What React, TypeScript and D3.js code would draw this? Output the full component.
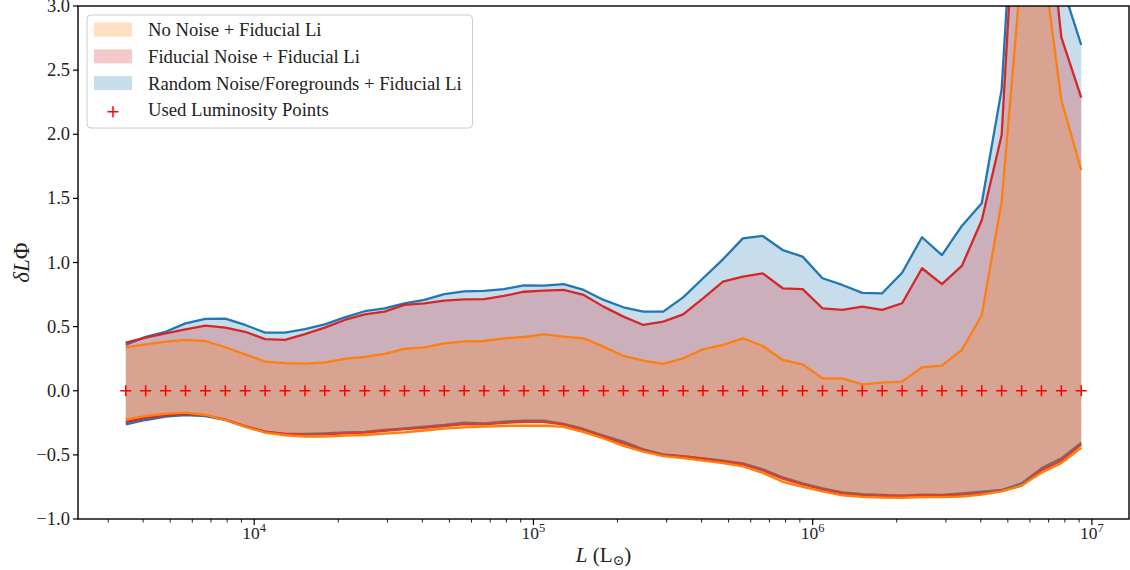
import React from 'react';
import * as d3 from 'd3';

// log10 of the luminosity grid (L in L_sun)
const logL = [3.540, 3.6113, 3.6826, 3.7539, 3.8252, 3.8965, 3.9677, 4.0390, 4.1103, 4.1816,
  4.2529, 4.3242, 4.3955, 4.4668, 4.5381, 4.6094, 4.6806, 4.7519, 4.8232, 4.8945,
  4.9658, 5.0371, 5.1084, 5.1797, 5.2510, 5.3223, 5.3935, 5.4648, 5.5361, 5.6074,
  5.6787, 5.7500, 5.8213, 5.8926, 5.9639, 6.0352, 6.1064, 6.1777, 6.2490, 6.3203,
  6.3916, 6.4629, 6.5342, 6.6055, 6.6768, 6.7481, 6.8193, 6.8906, 6.9619];

const blueUpper = [0.36, 0.42, 0.46, 0.525, 0.56, 0.562, 0.513, 0.453, 0.453, 0.48,
  0.518, 0.572, 0.62, 0.643, 0.682, 0.708, 0.754, 0.775, 0.778, 0.793,
  0.822, 0.82, 0.832, 0.786, 0.708, 0.651, 0.617, 0.617, 0.728, 0.877,
  1.025, 1.188, 1.207, 1.097, 1.046, 0.877, 0.825, 0.763, 0.76, 0.92,
  1.197, 1.058, 1.285, 1.462, 2.35, 4.95, 5.0, 3.18, 2.696];
const blueLower = [-0.262, -0.228, -0.202, -0.189, -0.197, -0.228, -0.28, -0.319, -0.337, -0.337,
  -0.332, -0.324, -0.32, -0.306, -0.293, -0.28, -0.267, -0.249, -0.254, -0.241,
  -0.233, -0.233, -0.259, -0.298, -0.35, -0.397, -0.457, -0.496, -0.509, -0.527,
  -0.545, -0.566, -0.613, -0.675, -0.722, -0.761, -0.792, -0.806, -0.813, -0.818,
  -0.81, -0.813, -0.8, -0.787, -0.774, -0.722, -0.605, -0.527, -0.405];

const redUpper = [0.375, 0.414, 0.448, 0.479, 0.508, 0.492, 0.46, 0.403, 0.396, 0.442,
  0.492, 0.552, 0.595, 0.617, 0.669, 0.682, 0.702, 0.713, 0.715, 0.739,
  0.772, 0.78, 0.786, 0.747, 0.656, 0.578, 0.513, 0.539, 0.596, 0.721,
  0.85, 0.89, 0.915, 0.799, 0.793, 0.643, 0.63, 0.656, 0.63, 0.682,
  0.955, 0.832, 0.973, 1.33, 1.994, 4.74, 4.22, 2.756, 2.285];
const redLower = [-0.245, -0.212, -0.192, -0.18, -0.19, -0.225, -0.275, -0.318, -0.337, -0.342,
  -0.34, -0.332, -0.326, -0.312, -0.3, -0.29, -0.276, -0.26, -0.262, -0.25,
  -0.243, -0.243, -0.265, -0.305, -0.357, -0.41, -0.465, -0.5, -0.512, -0.53,
  -0.55, -0.575, -0.622, -0.685, -0.73, -0.77, -0.8, -0.815, -0.82, -0.82,
  -0.815, -0.815, -0.81, -0.8, -0.78, -0.74, -0.62, -0.545, -0.42];

const orangeUpper = [0.339, 0.362, 0.383, 0.396, 0.388, 0.339, 0.284, 0.227, 0.216, 0.211,
  0.222, 0.248, 0.264, 0.287, 0.326, 0.339, 0.37, 0.385, 0.388, 0.409,
  0.419, 0.44, 0.422, 0.409, 0.344, 0.271, 0.235, 0.209, 0.253, 0.323,
  0.357, 0.409, 0.349, 0.24, 0.206, 0.097, 0.097, 0.05, 0.063, 0.071,
  0.183, 0.196, 0.318, 0.59, 1.474, 3.3, 3.45, 2.267, 1.72];
const orangeLower = [-0.223, -0.197, -0.181, -0.171, -0.189, -0.228, -0.282, -0.326, -0.347, -0.358,
  -0.358, -0.35, -0.345, -0.335, -0.325, -0.31, -0.295, -0.285, -0.28, -0.275,
  -0.272, -0.273, -0.282, -0.322, -0.372, -0.43, -0.475, -0.51, -0.525, -0.545,
  -0.565, -0.59, -0.64, -0.71, -0.75, -0.785, -0.815, -0.828, -0.833, -0.835,
  -0.83, -0.83, -0.825, -0.81, -0.785, -0.74, -0.64, -0.565, -0.445];

const usedPointValue = 0;

const yTicks = [-1.0, -0.5, 0.0, 0.5, 1.0, 1.5, 2.0, 2.5, 3.0];
const xMajorExps = [4, 5, 6, 7];
const legendLabels = [
  'No Noise + Fiducial Li',
  'Fiducial Noise + Fiducial Li',
  'Random Noise/Foregrounds + Fiducial Li',
  'Used Luminosity Points',
];

const FONT = '"Liberation Serif", "DejaVu Serif", serif';
const BLUE = '#1f77b4';
const RED = '#d62728';
const ORANGE = '#ff7f0e';

export default function App() {
  const left = 78, right = 1129, top = 6, bottom = 519;
  const x = d3.scaleLog().domain([Math.pow(10, 3.3689), Math.pow(10, 7.1329)]).range([left, right]);
  const y = d3.scaleLinear().domain([-1, 3]).range([bottom, top]);
  const L = logL.map((v) => Math.pow(10, v));

  const area = (up: number[], lo: number[]) =>
    d3.area<number>()
      .x((_, i) => x(L[i]))
      .y0((_, i) => y(lo[i]))
      .y1((_, i) => y(up[i]))(up) || '';
  const line = (vals: number[]) =>
    d3.line<number>().x((_, i) => x(L[i])).y((d) => y(d))(vals) || '';

  const series = [
    { color: BLUE, up: blueUpper, lo: blueLower },
    { color: RED, up: redUpper, lo: redLower },
    { color: ORANGE, up: orangeUpper, lo: orangeLower },
  ];

  const [d0, d1] = x.domain();
  const minor: number[] = [];
  for (let e = 3; e <= 7; e++) {
    for (let k = 2; k <= 9; k++) {
      const v = k * Math.pow(10, e);
      if (v >= d0 && v <= d1) minor.push(v);
    }
  }

  const fmt = (v: number) => (v < 0 ? '\u2212' + Math.abs(v).toFixed(1) : v.toFixed(1));

  const plus = (cx: number, cy: number, s: number, key: string) => (
    <path key={key} d={`M${cx - s},${cy}H${cx + s}M${cx},${cy - s}V${cy + s}`} stroke="#ff0000" strokeWidth={1.5} fill="none" />
  );

  const legendPatchColors = ['#ffdfc3', '#f5c9c9', '#c7ddec'];
  const rowY = [29.7, 56.4, 83.1, 109.8];

  return (
    <svg width={1130} height={570} style={{ position: 'fixed', left: 0, top: 0, background: '#fff' }} fontFamily={FONT}>
      <rect x={0} y={0} width={1130} height={570} fill="#fff" />
      <defs>
        <clipPath id="plotclip">
          <rect x={left} y={top} width={right - left} height={bottom - top} />
        </clipPath>
      </defs>
      <g clipPath="url(#plotclip)">
        {series.map((s, i) => (
          <g key={i}>
            <path d={area(s.up, s.lo)} fill={s.color} fillOpacity={0.25} stroke="none" />
            <path d={line(s.up)} fill="none" stroke={s.color} strokeWidth={2.3} strokeLinejoin="round" />
            <path d={line(s.lo)} fill="none" stroke={s.color} strokeWidth={2.3} strokeLinejoin="round" />
          </g>
        ))}
        {L.map((l, i) => plus(x(l), y(usedPointValue), 5.5, 'p' + i))}
      </g>

      {/* spines */}
      <rect x={left} y={top} width={right - left} height={bottom - top} fill="none" stroke="#000" strokeWidth={1.4} />

      {/* y ticks */}
      {yTicks.map((t) => (
        <g key={'y' + t}>
          <line x1={left - 5} x2={left} y1={y(t)} y2={y(t)} stroke="#000" strokeWidth={1.2} />
          <text x={left - 8} y={y(t)} dy="0.33em" textAnchor="end" fontSize={18.5} fill="#222">{fmt(t)}</text>
        </g>
      ))}

      {/* x ticks */}
      {minor.map((v, i) => (
        <line key={'m' + i} x1={x(v)} x2={x(v)} y1={bottom} y2={bottom + 3.5} stroke="#000" strokeWidth={0.9} />
      ))}
      {xMajorExps.map((e) => {
        const px = x(Math.pow(10, e));
        return (
          <g key={'x' + e}>
            <line x1={px} x2={px} y1={bottom} y2={bottom + 6} stroke="#000" strokeWidth={1.2} />
            <text x={px} y={539} textAnchor="middle" fontSize={17.5} fill="#222">
              10<tspan fontSize={12.5} dy={-7}>{e}</tspan>
            </text>
          </g>
        );
      })}

      {/* axis labels */}
      <text x={(left + right) / 2} y={562} textAnchor="middle" fontSize={21} fill="#222">
        <tspan fontStyle="italic">L</tspan> (L<tspan fontSize={14} dy={3}>{'\u2299'}</tspan><tspan dy={-3}>)</tspan>
      </text>
      <text transform={`translate(29,${(top + bottom) / 2}) rotate(-90)`} textAnchor="middle" fontSize={23} fill="#222">
        <tspan fontStyle="italic">{'\u03b4L'}</tspan>{'\u03a6'}
      </text>

      {/* legend */}
      <g>
        <rect x={87} y={15} width={385.5} height={113} rx={4} ry={4} fill="#fff" fillOpacity={0.8} stroke="#cccccc" strokeWidth={1} />
        {legendLabels.map((lab, i) => (
          <g key={'l' + i}>
            {i < 3 ? (
              <rect x={94} y={rowY[i] - 7} width={38} height={14} fill={legendPatchColors[i]} />
            ) : (
              plus(113, rowY[i] + 2, 5.5, 'lp')
            )}
            <text x={148} y={rowY[i] + 6.5} fontSize={18.7} fill="#222">{lab}</text>
          </g>
        ))}
      </g>
    </svg>
  );
}
